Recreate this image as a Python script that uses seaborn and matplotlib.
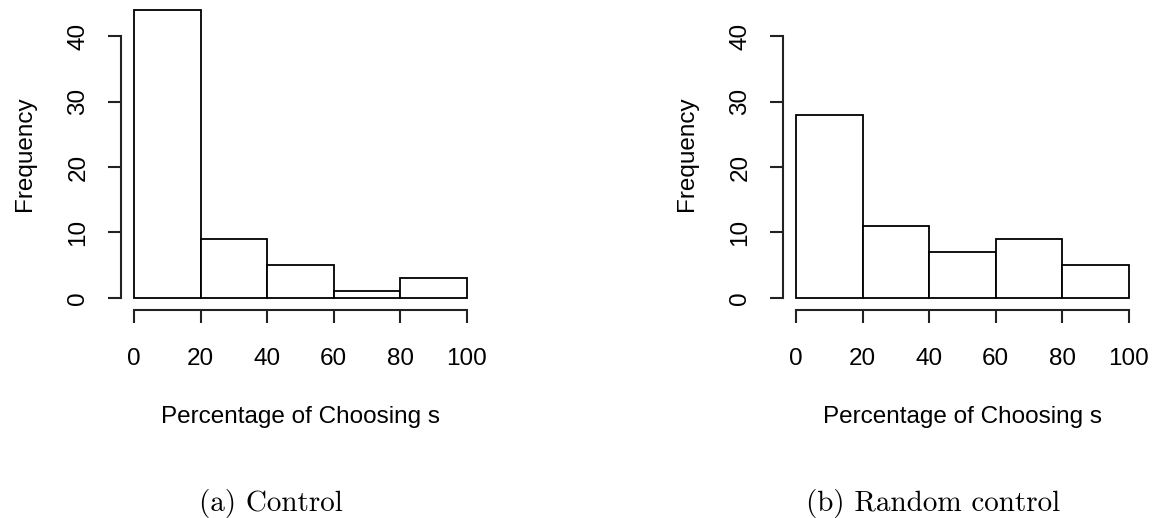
import numpy as np
import matplotlib
matplotlib.use('Agg')
import matplotlib.pyplot as plt
import seaborn as sns

# histogram bins and counts
bin_edges = [0, 20, 40, 60, 80, 100]
control_counts = [44, 9, 5, 1, 3]
random_counts = [28, 11, 7, 9, 5]
x_ticks = [0, 20, 40, 60, 80, 100]
y_ticks = [0, 10, 20, 30, 40]
captions = ['(a) Control', '(b) Random control']

sns.set_style('white')
plt.rcParams['font.family'] = ['Liberation Sans', 'DejaVu Sans']
plt.rcParams['axes.linewidth'] = 1.5
plt.rcParams['text.color'] = 'black'
plt.rcParams['axes.labelcolor'] = 'black'
plt.rcParams['xtick.labelcolor'] = 'black'
plt.rcParams['ytick.labelcolor'] = 'black'

fig = plt.figure(figsize=(11.53, 5.18), dpi=100)
W, H = 1153, 518

# axes box in pixels (R-style plot region, 4% padding on data range)
panels = [
    (120.7, control_counts, captions[0], 271),
    (782.7, random_counts, captions[1], 933),
]
for left_px, counts, cap, cap_x in panels:
    ax = fig.add_axes([left_px / W, (518 - 309.5) / H, 359.6 / W, 311.2 / H])
    sns.histplot(x=bin_edges[:-1], weights=counts, bins=bin_edges, ax=ax,
                 color='white', edgecolor='black', linewidth=1.3, alpha=1)
    ax.set_xlim(-4, 104)
    ax.set_ylim(-1.76, 45.76)
    ax.set_xticks(x_ticks)
    ax.set_yticks(y_ticks)
    ax.spines['top'].set_visible(False)
    ax.spines['right'].set_visible(False)
    ax.spines['left'].set_bounds(0, 40)
    ax.spines['bottom'].set_bounds(0, 100)
    for s in ('left', 'bottom'):
        ax.spines[s].set_color('#222222')
    ax.tick_params(axis='both', direction='out', length=9.5, width=1.5,
                   labelsize=17.5, color='#222222', bottom=True, left=True)
    ax.tick_params(axis='x', pad=18)
    ax.tick_params(axis='y', pad=13)
    for lab in ax.get_yticklabels():
        lab.set_rotation(90)
        lab.set_va('center')
    ax.set_xlabel('Percentage of Choosing s', fontsize=17.5, labelpad=26)
    ax.set_ylabel('Frequency', fontsize=17.5, labelpad=23)
    fig.text(cap_x / W, 1 - 503 / H, cap, ha='center', va='center',
             fontsize=21, family=['cmr10', 'DejaVu Serif'])

fig.savefig('out.png', dpi=100, facecolor='white')
